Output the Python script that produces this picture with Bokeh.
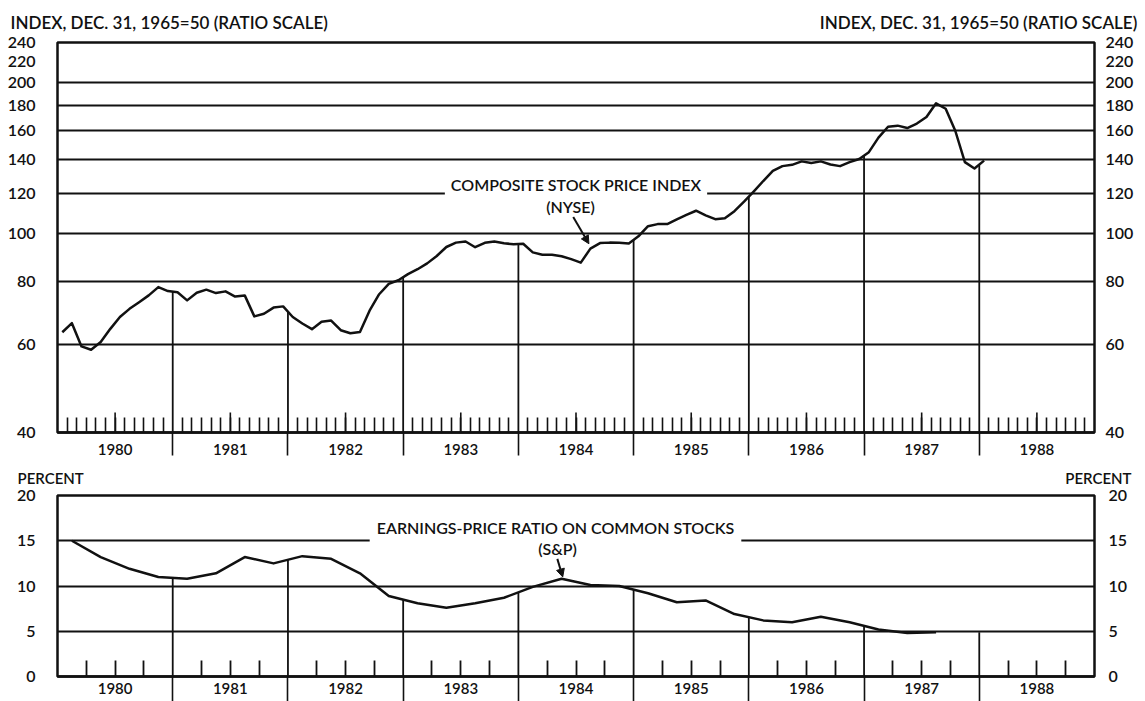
import numpy as np
from bokeh.plotting import figure
from bokeh.layouts import column
from bokeh.models import (Range1d, FixedTicker, LogAxis, LinearAxis,
                          CustomJSTickFormatter, NumeralTickFormatter, Label,
                          Arrow, NormalHead)
from bokeh.embed import file_html
from bokeh.resources import INLINE

FONT = "'Lato Semibold', 'Lato Medium', Lato"
INK = "#111111"

# ---------------- data ----------------
years = [1980, 1981, 1982, 1983, 1984, 1985, 1986, 1987, 1988]

# NYSE composite stock price index, monthly (Dec. 31, 1965 = 50)
nyse_1980 = [63.4, 66.1, 59.4, 58.5, 60.6, 64.4, 68.0, 70.6, 72.8, 75.1, 78.0, 76.6]
nyse_1981 = [76.2, 73.4, 76.0, 77.1, 75.9, 76.5, 74.7, 75.1, 68.2, 69.0, 71.0, 71.4]
nyse_1982 = [68.0, 66.0, 64.3, 66.5, 66.9, 64.0, 63.1, 63.5, 70.0, 75.5, 79.2, 80.5]
nyse_1983 = [82.8, 84.7, 87.0, 90.0, 93.8, 95.7, 96.2, 93.7, 95.6, 96.2, 95.4, 95.0]
nyse_1984 = [95.2, 91.5, 90.5, 90.5, 89.9, 88.7, 87.3, 93.1, 95.5, 95.7, 95.6, 95.3]
nyse_1985 = [98.5, 103.2, 104.2, 104.2, 106.5, 108.7, 110.8, 108.5, 106.6, 107.0, 110.6, 115.5]
nyse_1986 = [121.0, 127.0, 133.0, 136.0, 136.8, 139.0, 138.0, 139.0, 137.0, 136.0, 138.5, 140.5]
nyse_1987 = [145.0, 155.0, 163.0, 163.8, 162.0, 165.4, 170.4, 181.5, 177.0, 160.0, 138.5, 134.5]
nyse_1988 = [139.5]

# Earnings-price ratio on common stocks (S&P), quarterly, percent
ep_1980 = [15.0, 13.2, 11.9, 11.0]
ep_1981 = [10.8, 11.4, 13.2, 12.5]
ep_1982 = [13.3, 13.0, 11.4, 8.9]
ep_1983 = [8.1, 7.6, 8.1, 8.7]
ep_1984 = [9.9, 10.8, 10.1, 10.0]
ep_1985 = [9.2, 8.2, 8.4, 6.9]
ep_1986 = [6.2, 6.0, 6.6, 6.0]
ep_1987 = [5.2, 4.8, 4.9]

top_ticks = [40, 60, 80, 100, 120, 140, 160, 180, 200, 220, 240]
top_grid = [60, 80, 100, 120, 140, 160, 180, 200]
bot_ticks = [0, 5, 10, 15, 20]
bot_grid = [5, 10, 15]

top_title = "INDEX, DEC. 31, 1965=50 (RATIO SCALE)"
top_title_r = "INDEX, DEC. 31, 1965=50  (RATIO SCALE)"
bot_title = "PERCENT"
top_note = ["COMPOSITE STOCK PRICE INDEX", "(NYSE)"]
bot_note = ["EARNINGS-PRICE RATIO ON COMMON STOCKS", "(S&P)"]

# ---------------- derived ----------------
nyse = np.array(nyse_1980 + nyse_1981 + nyse_1982 + nyse_1983 + nyse_1984 +
                nyse_1985 + nyse_1986 + nyse_1987 + nyse_1988)
xm = years[0] + (np.arange(len(nyse)) + 0.5) / 12.0
ep = np.array(ep_1980 + ep_1981 + ep_1982 + ep_1983 + ep_1984 + ep_1985 +
              ep_1986 + ep_1987)
xq = years[0] + (np.arange(len(ep)) + 0.5) / 4.0

bounds = np.array(years[1:], dtype=float)
month_ticks = [y + k / 12.0 for y in years for k in range(1, 12)]
quarter_ticks = [y + k / 4.0 for y in years for k in range(1, 4)]
mid_years = [y + 0.5 for y in years]

label_js = ("const f = tick - Math.floor(tick);"
            "return Math.abs(f - 0.5) < 1e-6 ? String(Math.floor(tick)) : '';")

X0, X1 = years[0], years[-1] + 1
W = 1145
FL, FR = 57, 1094          # frame left / right (page px)
BL, BR = FL, W - FR


def no_align(fig):
    if "frame_align" in fig.properties():
        fig.frame_align = False


def header(height, left_text, right_text, cy, left_x, right_x, size):
    h = figure(width=W, height=height, x_range=Range1d(0, 1), y_range=Range1d(0, 1),
               x_axis_location=None, y_axis_location=None,
               output_backend="svg", toolbar_location=None, title=None,
               min_border=0, min_border_left=0, min_border_right=0,
               min_border_top=0, min_border_bottom=0)
    no_align(h)
    h.outline_line_color = None
    h.background_fill_color = "white"
    h.border_fill_color = "white"
    h.grid.grid_line_color = None
    h.add_layout(Label(x=left_x, y=height - cy, x_units="screen", y_units="screen",
                       text=left_text, text_font=FONT, text_font_size=size,
                       text_color=INK, text_align="left", text_baseline="middle"))
    h.add_layout(Label(x=right_x, y=height - cy, x_units="screen", y_units="screen",
                       text=right_text, text_font=FONT, text_font_size=size,
                       text_color=INK, text_align="right", text_baseline="middle"))
    return h


# ---------------- header 1 (page y 0..32) ----------------
H1 = 32
hdr1 = header(H1, top_title, top_title_r, 21.5, 10, 1141, "17px")

# ---------------- top panel (page y 32..466) ----------------
P1_TOP, P1_BOT = H1, 466
TOP_H = P1_BOT - P1_TOP
FT1, FB1 = 42, 432
TOP_BT, TOP_BB = FT1 - P1_TOP, P1_BOT - FB1
frame_h1 = FB1 - FT1
ppd = frame_h1 / np.log10(top_ticks[-1] / top_ticks[0])

p1 = figure(width=W, height=TOP_H, x_range=Range1d(X0, X1),
            y_range=Range1d(top_ticks[0], top_ticks[-1]), y_axis_type="log",
            output_backend="svg", toolbar_location=None, title=None,
            min_border_left=BL, min_border_right=BR,
            min_border_top=TOP_BT, min_border_bottom=TOP_BB)
no_align(p1)
p1.background_fill_color = "white"
p1.border_fill_color = "white"
p1.outline_line_color = INK
p1.outline_line_width = 2.5
p1.xgrid.grid_line_color = None
p1.ygrid.ticker = FixedTicker(ticks=top_grid)
p1.ygrid.grid_line_color = INK
p1.ygrid.grid_line_width = 1.8

ya = p1.yaxis[0]
ya.ticker = FixedTicker(ticks=top_ticks)
ya.formatter = NumeralTickFormatter(format="0")
ya.major_tick_in = 0
ya.major_tick_out = 0
ya.minor_tick_in = 0
ya.minor_tick_out = 0
ya.axis_line_color = None
ya.major_label_standoff = 22
ya.major_label_text_font = FONT
ya.major_label_text_font_size = "16px"
ya.major_label_text_color = INK

ra = LogAxis(ticker=FixedTicker(ticks=top_ticks),
             formatter=NumeralTickFormatter(format="0"),
             major_tick_in=0, major_tick_out=0, minor_tick_in=0, minor_tick_out=0,
             axis_line_color=None, major_label_standoff=11,
             major_label_text_font=FONT, major_label_text_font_size="16px",
             major_label_text_color=INK)
p1.add_layout(ra, "right")

SEP1 = 23
xa = p1.xaxis[0]
xa.ticker = FixedTicker(ticks=month_ticks, minor_ticks=list(bounds))
xa.formatter = CustomJSTickFormatter(code=label_js)
xa.major_tick_in = 15
xa.major_tick_out = 0
xa.minor_tick_in = 0
xa.minor_tick_out = SEP1
xa.major_tick_line_color = INK
xa.major_tick_line_width = 1.6
xa.minor_tick_line_color = INK
xa.minor_tick_line_width = 1.6
xa.axis_line_color = INK
xa.axis_line_width = 2.5
xa.major_label_standoff = 11 - SEP1
xa.major_label_text_font = FONT
xa.major_label_text_font_size = "15px"
xa.major_label_text_color = INK

# taller mid-year ticks
p1.segment(x0=mid_years, y0=top_ticks[0], x1=mid_years,
           y1=top_ticks[0] * 10 ** (20 / ppd), line_color=INK, line_width=1.6)

# drop lines at year boundaries
top_drop = np.exp(np.interp(bounds, xm, np.log(nyse)))
p1.segment(x0=bounds, y0=top_ticks[0], x1=bounds, y1=top_drop,
           line_color=INK, line_width=1.8)

p1.line(xm, nyse, line_color=INK, line_width=2.5, line_join="round")

p1.add_layout(Label(x=575.5 - FL, y=FB1 - 184, x_units="screen", y_units="screen",
                    text=top_note[0], text_font=FONT,
                    text_font_size="16px", text_color=INK, text_align="center",
                    text_baseline="middle", background_fill_color="white",
                    padding=6))
p1.add_layout(Label(x=570 - FL, y=FB1 - 206, x_units="screen", y_units="screen",
                    text=top_note[1], text_font=FONT, text_font_size="16px",
                    text_color=INK, text_align="center", text_baseline="middle"))
p1.add_layout(Arrow(x_start=1984.476, y_start=107.6, x_end=1984.612, y_end=95.2,
                    line_color=INK, line_width=2,
                    end=NormalHead(size=8, fill_color=INK, line_color=INK)))

# ---------------- header 2 (page y 466..486) ----------------
H2 = 20
hdr2 = header(H2, bot_title, bot_title, 477 - P1_BOT, 17, 1131, "15px")

# ---------------- bottom panel (page y 486..701) ----------------
P2_TOP = P1_BOT + H2
BOT_H = 701 - P2_TOP
FT2, FB2 = 495, 676
BOT_BT, BOT_BB = FT2 - P2_TOP, 701 - FB2
p2 = figure(width=W, height=BOT_H, x_range=Range1d(X0, X1),
            y_range=Range1d(bot_ticks[0], bot_ticks[-1]),
            output_backend="svg", toolbar_location=None, title=None,
            min_border_left=BL, min_border_right=BR,
            min_border_top=BOT_BT, min_border_bottom=BOT_BB)
no_align(p2)
p2.background_fill_color = "white"
p2.border_fill_color = "white"
p2.outline_line_color = INK
p2.outline_line_width = 2.5
p2.xgrid.grid_line_color = None
p2.ygrid.ticker = FixedTicker(ticks=bot_grid)
p2.ygrid.grid_line_color = INK
p2.ygrid.grid_line_width = 1.8

ya2 = p2.yaxis[0]
ya2.ticker = FixedTicker(ticks=bot_ticks)
ya2.major_tick_in = 0
ya2.major_tick_out = 0
ya2.minor_tick_in = 0
ya2.minor_tick_out = 0
ya2.axis_line_color = None
ya2.major_label_standoff = 22
ya2.major_label_text_font = FONT
ya2.major_label_text_font_size = "16px"
ya2.major_label_text_color = INK

ra2 = LinearAxis(ticker=FixedTicker(ticks=bot_ticks),
                 major_tick_in=0, major_tick_out=0, minor_tick_in=0, minor_tick_out=0,
                 axis_line_color=None, major_label_standoff=14,
                 major_label_text_font=FONT, major_label_text_font_size="16px",
                 major_label_text_color=INK)
p2.add_layout(ra2, "right")

SEP2 = 40
xb = p2.xaxis[0]
xb.ticker = FixedTicker(ticks=quarter_ticks, minor_ticks=list(bounds))
xb.formatter = CustomJSTickFormatter(code=label_js)
xb.major_tick_in = 16
xb.major_tick_out = 0
xb.minor_tick_in = 0
xb.minor_tick_out = SEP2
xb.major_tick_line_color = INK
xb.major_tick_line_width = 1.8
xb.minor_tick_line_color = INK
xb.minor_tick_line_width = 1.6
xb.axis_line_color = INK
xb.axis_line_width = 2.5
xb.major_label_standoff = 6 - SEP2
xb.major_label_text_font = FONT
xb.major_label_text_font_size = "15px"
xb.major_label_text_color = INK

bot_drop = np.interp(bounds, xq, ep)
p2.segment(x0=bounds, y0=bot_ticks[0], x1=bounds, y1=bot_drop,
           line_color=INK, line_width=1.8)
p2.line(xq, ep, line_color=INK, line_width=2.5, line_join="round")

p2.add_layout(Label(x=555 - FL, y=FB2 - 527, x_units="screen", y_units="screen",
                    text=bot_note[0], text_font=FONT,
                    text_font_size="16px", text_color=INK, text_align="center",
                    text_baseline="middle", background_fill_color="white",
                    padding=7))
p2.add_layout(Label(x=557 - FL, y=FB2 - 548, x_units="screen", y_units="screen",
                    text=bot_note[1], text_font=FONT, text_font_size="16px",
                    text_color=INK, text_align="center", text_baseline="middle"))
p2.add_layout(Arrow(x_start=1984.338, y_start=13.0, x_end=1984.385, y_end=11.0,
                    line_color=INK, line_width=2,
                    end=NormalHead(size=8, fill_color=INK, line_color=INK)))

layout = column(hdr1, p1, hdr2, p2)
open("out.html", "w").write(file_html(layout, INLINE))
